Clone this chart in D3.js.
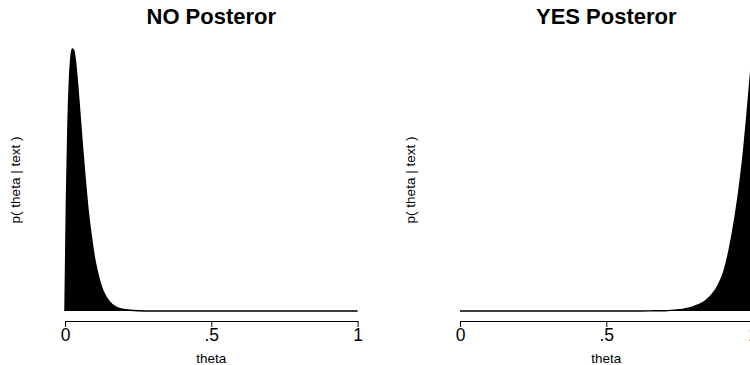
<!DOCTYPE html>
<html>
<head>
<meta charset="utf-8">
<script src="https://cdn.jsdelivr.net/npm/d3@7"></script>
<style>
  html, body { margin: 0; padding: 0; background: #fff; }
  svg { display: block; }
  text { font-family: "Liberation Sans", Arial, Helvetica, sans-serif; fill: #000; }
</style>
</head>
<body>
<svg id="chart" width="750" height="365"></svg>
<script>
// ---- data ----
const titles = ["NO Posteror", "YES Posteror"];
const xLabel = "theta";
const yLabel = "p( theta | text )";
const tickValues = [0, 0.5, 1];
const tickLabels = ["0", ".5", "1"];

// NO posterior: theta grid and density
const thetaNo = [0, 0.005, 0.01, 0.015, 0.02, 0.025, 0.03, 0.035, 0.04, 0.05, 0.06, 0.07, 0.08, 0.09, 0.10,
                 0.11, 0.12, 0.13, 0.14, 0.16, 0.18, 0.20, 0.25, 0.30, 0.40, 0.50, 0.60, 0.70, 0.80, 0.90, 1.0];
const densNo  = [0, 6.1, 10.2, 12.7, 14.0, 14.5, 14.4, 13.9, 13.1, 11.1, 9.0, 7.1, 5.4, 4.1, 3.0,
                 2.2, 1.57, 1.1, 0.78, 0.37, 0.17, 0.08, 0.01, 0, 0, 0, 0, 0, 0, 0, 0];

// YES posterior: theta grid and density
const thetaYes = [0, 0.1, 0.2, 0.3, 0.4, 0.5, 0.6, 0.65, 0.70, 0.72, 0.74, 0.76, 0.78, 0.80, 0.82, 0.84,
                  0.86, 0.88, 0.90, 0.92, 0.94, 0.96, 0.97, 0.98, 0.99, 1.0];
const densYes  = [0, 0, 0, 0, 0, 0, 0, 0.01, 0.03, 0.05, 0.08, 0.13, 0.22, 0.37, 0.55, 0.83,
                  1.28, 1.96, 3.02, 4.9, 7.5, 10.9, 13.0, 15.5, 18.2, 21.0];

// ---- drawing ----
const svg = d3.select("#chart");
const panelOffsets = [0, 395];
const plotLeft = 65, plotWidth = 292.6;
const baseY = 311, topY = 49, axisY = 321;

const series = [
  { theta: thetaNo, dens: densNo },
  { theta: thetaYes, dens: densYes }
];

series.forEach((s, i) => {
  const off = panelOffsets[i];
  const g = svg.append("g").attr("transform", `translate(${off},0)`);
  const x = d3.scaleLinear().domain([0, 1]).range([plotLeft, plotLeft + plotWidth]);
  const y = d3.scaleLinear().domain([0, d3.max(s.dens)]).range([baseY, topY]);
  const pts = s.theta.map((t, k) => [t, s.dens[k]]);

  const area = d3.area()
    .x(d => x(d[0])).y0(y(0)).y1(d => y(d[1]))
    .curve(d3.curveMonotoneX);
  const line = d3.line()
    .x(d => x(d[0])).y(d => y(d[1]))
    .curve(d3.curveMonotoneX);

  g.append("path").datum(pts).attr("d", area).attr("fill", "#000");
  g.append("path").datum(pts).attr("d", line)
    .attr("fill", "none").attr("stroke", "#000").attr("stroke-width", 1.5);

  // x axis
  const axis = d3.axisBottom(x)
    .tickValues(tickValues)
    .tickFormat((d, k) => tickLabels[k])
    .tickSize(6).tickSizeOuter(0).tickPadding(2);
  const ag = g.append("g").attr("transform", `translate(0,${axisY})`).call(axis);
  ag.select(".domain").attr("stroke", "#000").attr("stroke-width", 1);
  ag.selectAll(".tick line").attr("stroke", "#000").attr("stroke-width", 1);
  ag.selectAll(".tick text")
    .attr("font-family", "'Liberation Sans', Arial, sans-serif")
    .attr("font-size", 17.5).attr("fill", "#000");

  // title
  g.append("text")
    .attr("x", plotLeft + plotWidth / 2).attr("y", 24)
    .attr("text-anchor", "middle")
    .attr("font-size", 22).attr("font-weight", "bold")
    .text(titles[i]);

  // x label
  g.append("text")
    .attr("x", plotLeft + plotWidth / 2).attr("y", 362.5)
    .attr("text-anchor", "middle")
    .attr("font-size", 13.5)
    .text(xLabel);

  // y label
  g.append("text")
    .attr("transform", `translate(19.5,${(baseY + topY) / 2}) rotate(-90)`)
    .attr("text-anchor", "middle")
    .attr("font-size", 13.5)
    .text(yLabel);
});
</script>
</body>
</html>
